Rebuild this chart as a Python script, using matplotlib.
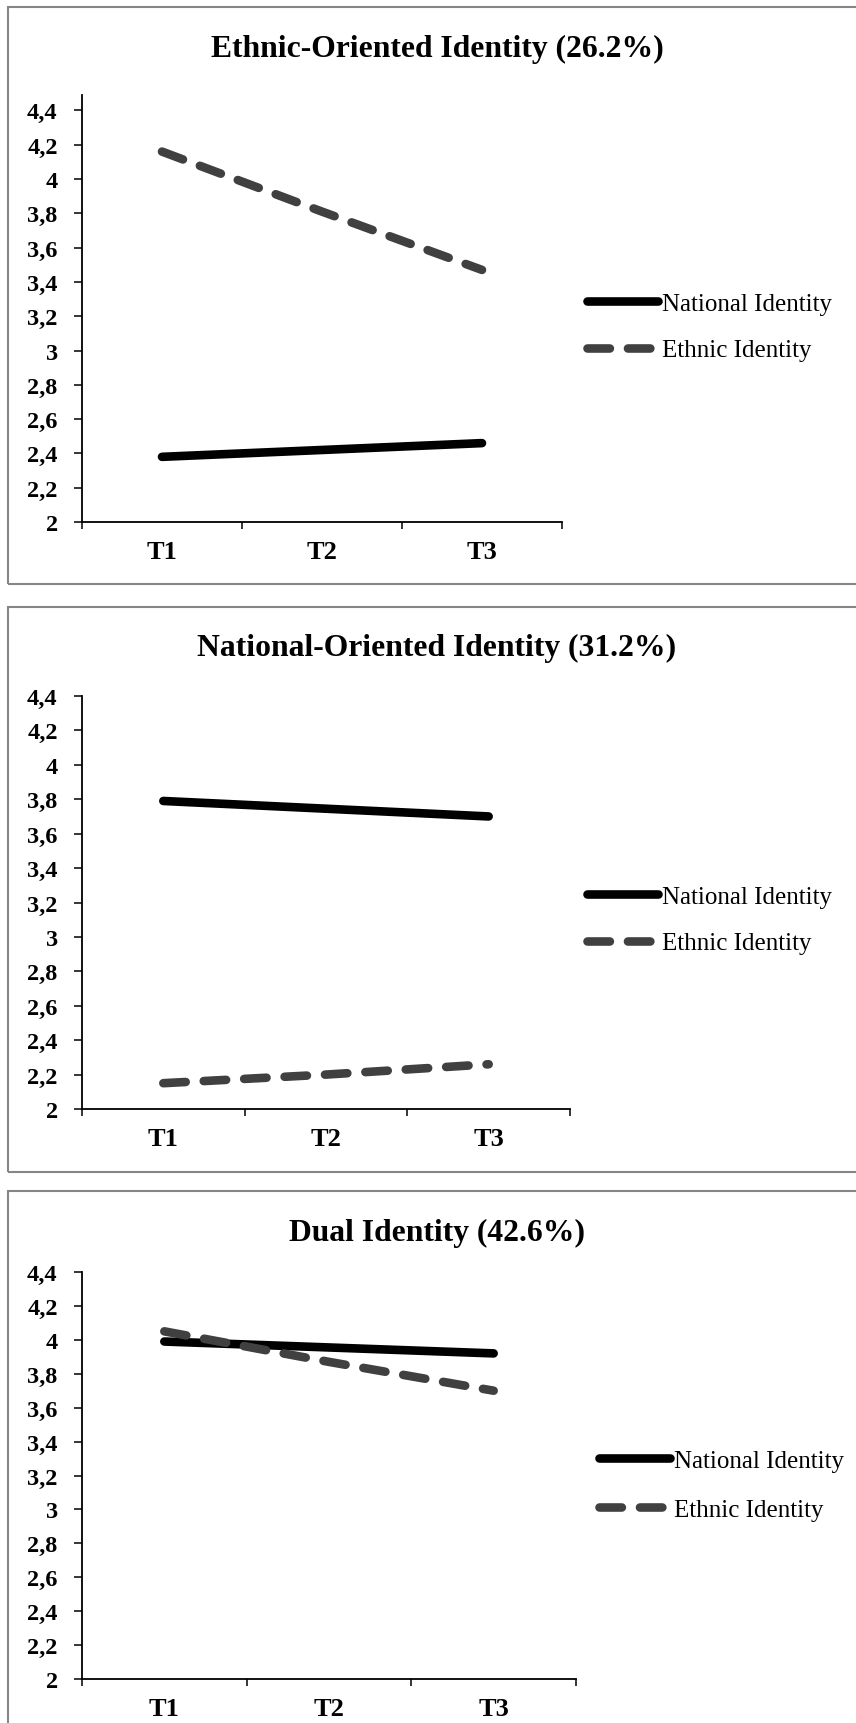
import matplotlib
matplotlib.use("Agg")
import matplotlib.pyplot as plt
from matplotlib.lines import Line2D
from matplotlib.patches import Rectangle
from matplotlib.ticker import FixedLocator, NullFormatter

# ---- data -------------------------------------------------------------
waves = ["T1", "T2", "T3"]
titles = [
    "Ethnic-Oriented Identity (26.2%)",
    "National-Oriented Identity (31.2%)",
    "Dual Identity (42.6%)",
]
national = [
    [2.38, 2.42, 2.46],
    [3.79, 3.745, 3.70],
    [3.99, 3.955, 3.92],
]
ethnic = [
    [4.16, 3.81, 3.47],
    [2.15, 2.20, 2.26],
    [4.05, 3.87, 3.70],
]
y_ticks = [2.0, 2.2, 2.4, 2.6, 2.8, 3.0, 3.2, 3.4, 3.6, 3.8, 4.0, 4.2, 4.4]
y_tick_labels = ["2", "2,2", "2,4", "2,6", "2,8", "3", "3,2", "3,4", "3,6",
                 "3,8", "4", "4,2", "4,4"]
series_labels = ["National Identity", "Ethnic Identity"]

# ---- layout (pixels of the 856x1724 canvas) ---------------------------
W, H = 856, 1724
SERIF = ["Liberation Serif", "DejaVu Serif"]

# (left, right, top, bottom, y_top_value)
axes_px = [
    (82, 562, 96, 523, 4.49),
    (82, 570, 697, 1110, 4.4),
    (82, 576, 1273, 1680, 4.4),
]
frames_px = [(8, 577), (608, 565), (1192, 600)]
title_y = [49, 648, 1233]
legend_px = [(587, 328), (587, 921), (599, 1486)]

NAT_COLOR = "black"
ETH_COLOR = "#404040"
LW = 6.2
ETH_DASH = (0, (2.6, 2.1))


def fx(x):
    return x / W


def fy(y):
    return 1 - y / H


fig = plt.figure(figsize=(W / 100, H / 100), dpi=100)
fig.patch.set_facecolor("white")

# panel frames (the right edge runs off the canvas, as in the source)
for top, height in frames_px:
    fig.patches.append(Rectangle((fx(8), fy(top + height)), fx(870 - 8), height / H,
                                 transform=fig.transFigure, fill=False,
                                 edgecolor="#868686", linewidth=1.5))

for i in range(3):
    left, right, top, bottom, ytop = axes_px[i]
    ax = fig.add_axes([fx(left), fy(bottom), fx(right - left), (bottom - top) / H])
    ax.set_facecolor("none")
    xs = [1, 2, 3]

    ax.plot(xs, national[i], color=NAT_COLOR, lw=LW, solid_capstyle="round",
            zorder=3 if i != 2 else 2)
    ax.plot(xs, ethnic[i], color=ETH_COLOR, lw=LW, linestyle=ETH_DASH,
            dash_capstyle="round", zorder=2 if i != 2 else 3)

    ax.set_xlim(0.5, 3.5)
    ax.set_ylim(2.0, ytop)

    ax.xaxis.set_major_locator(FixedLocator([0.5, 1.5, 2.5, 3.5]))
    ax.xaxis.set_major_formatter(NullFormatter())
    ax.set_xticks(xs, minor=True)
    ax.set_xticklabels(waves, minor=True, fontfamily=SERIF,
                       fontweight="bold", fontsize=19)
    ax.tick_params(axis="x", which="major", direction="out", length=5,
                   width=1.1, color="black")
    ax.tick_params(axis="x", which="minor", length=0, pad=13)

    ax.set_yticks(y_ticks)
    ax.set_yticklabels(y_tick_labels, fontfamily=SERIF, fontweight="bold",
                       fontsize=17.5)
    ax.tick_params(axis="y", direction="out", length=5.5, width=1.1,
                   color="black", pad=12)

    for s in ("top", "right"):
        ax.spines[s].set_visible(False)
    for s in ("left", "bottom"):
        ax.spines[s].set_linewidth(1.3)
        ax.spines[s].set_color("black")

    fig.text(fx(437), fy(title_y[i]), titles[i], ha="center", va="center",
             fontfamily=SERIF, fontweight="bold", fontsize=22.8)

    handles = [
        Line2D([], [], color=NAT_COLOR, lw=LW, solid_capstyle="round"),
        Line2D([], [], color=ETH_COLOR, lw=LW, linestyle=ETH_DASH,
               dash_capstyle="round"),
    ]
    lx, ly = legend_px[i]
    spacing = 1.05 if i == 2 else 0.95
    fig.legend(handles, series_labels, loc="center left",
               bbox_to_anchor=(fx(lx), fy(ly)), bbox_transform=fig.transFigure,
               frameon=False, borderpad=0, borderaxespad=0,
               handlelength=2.85, handletextpad=0.15, labelspacing=spacing,
               prop={"family": SERIF, "size": 18})

fig.savefig("out.png", dpi=100)
